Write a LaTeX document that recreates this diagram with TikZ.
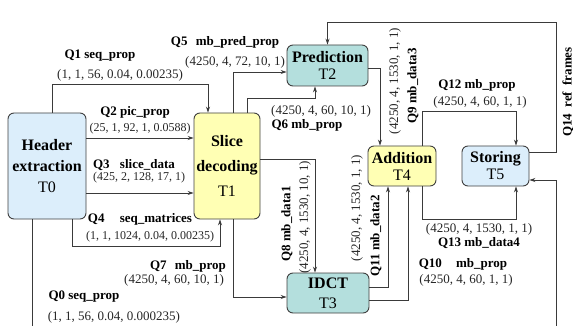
\documentclass[tikz,border=0pt]{standalone}
\usepackage{fontspec}
\setmainfont{Liberation Serif}
\usetikzlibrary{arrows.meta}
\definecolor{boxblue}{HTML}{DCEEFB}
\definecolor{boxyellow}{HTML}{FFFFB4}
\definecolor{boxteal}{HTML}{B4DFDD}
\definecolor{linec}{HTML}{3A3A3A}
\begin{document}
\begin{tikzpicture}[x=1pt,y=-1pt,
  box/.style={draw=black!75, line width=0.9pt, rounded corners=6pt, inner sep=0pt, align=center},
  conn/.style={draw=linec, line width=0.8pt},
  arr/.style={conn, -{Stealth[length=6pt,width=4pt]}},
  qname/.style={font=\fontsize{13}{15}\selectfont\bfseries, inner sep=0pt},
  qval/.style={font=\fontsize{13}{15}\selectfont, inner sep=0pt, text=black!85},
  qvals/.style={font=\fontsize{12}{14}\selectfont, inner sep=0pt, text=black!85}
]
\useasboundingbox (0,0) rectangle (573,326);

% tasks
\node[box, fill=boxblue, minimum width=78pt, minimum height=106pt,
      font=\fontsize{16}{21}\selectfont] (T0) at (47,166)
      {\textbf{Header}\\\textbf{extraction}\\T0};
\node[box, fill=boxyellow, minimum width=66pt, minimum height=106pt,
      font=\fontsize{16}{25}\selectfont] (T1) at (227,166)
      {\textbf{Slice}\\\textbf{decoding}\\T1};
\node[box, fill=boxteal, minimum width=81pt, minimum height=41pt,
      font=\fontsize{16}{17.5}\selectfont] (T2) at (327.5,65.5)
      {\textbf{Prediction}\\T2};
\node[box, fill=boxteal, minimum width=82pt, minimum height=40pt,
      font=\fontsize{16}{20}\selectfont] (T3) at (328,293)
      {\textbf{IDCT}\\T3};
\node[box, fill=boxyellow, minimum width=68pt, minimum height=40pt,
      font=\fontsize{16}{17}\selectfont] (T4) at (402,166)
      {\textbf{Addition}\\T4};
\node[box, fill=boxblue, minimum width=67pt, minimum height=40pt,
      font=\fontsize{16}{17}\selectfont] (T5) at (495.5,166)
      {\textbf{Storing}\\T5};

\coordinate (q0a) at (32,326);
\coordinate (q0b) at (556,326);

% connectors
\draw[arr] ([xshift=5pt]T0.north) -- ++(0,-28) -| ([xshift=-19pt]T1.north);
\draw[arr] ([yshift=28pt]T0.east) -- ([yshift=28pt]T1.west);
\draw[arr] ([yshift=-27pt]T0.east) -- ([yshift=-27pt]T1.west);
\draw[arr] ([xshift=25pt]T0.south) -- ++(0,27) -| ([xshift=-7pt]T1.south);
\draw[conn] ([xshift=-15pt]T0.south) -- (q0a);
\draw[arr] (q0b) |- ([yshift=-14pt]T5.east);
\draw[arr] ([xshift=6pt]T1.north) |- ([yshift=-6.5pt]T2.west);
\draw[arr] ([xshift=20pt]T1.north) -- ++(0,-14) -| ([xshift=-12.5pt]T2.south);
\draw[arr] ([xshift=6pt]T1.south) |- ([yshift=-4pt]T3.west);
\draw[arr] ([yshift=7pt]T1.east) -| ([xshift=-13pt]T3.north);
\draw[arr] ([yshift=-2.5pt]T2.east) -| ([xshift=-22pt]T4.north);
\draw[arr] ([yshift=-7pt]T3.east) -| ([xshift=6pt]T4.south);
\draw[arr] ([yshift=6pt]T3.east) -| ([xshift=-14pt]T4.south);
\draw[arr] ([xshift=20pt]T4.north) -- ++(0,-34) -| ([xshift=20.5pt]T5.north);
\draw[arr] ([xshift=20pt]T4.south) -- ++(0,33) -| ([xshift=20.5pt]T5.south);
\draw[arr] ([yshift=14pt]T5.east) -- ++(27,0) -- ++(0,-130) -| (T2.north);

% labels
\node[qname] (l1n) at (100,56) {Q1 seq\_prop};
\node[qval] (l1v) at (120,75) {(1, 1, 56, 0.04, 0.00235)};
\node[qname] (l2n) at (135,112) {Q2 pic\_prop};
\node[qvals] (l2v) at (140,129) {(25, 1, 92, 1, 0.0588)};
\node[qname] (l3n) at (134,165) {Q3\hspace{7pt} slice\_data};
\node[qvals] (l3v) at (139,178) {(425, 2, 128, 17, 1)};
\node[qname] (l4n) at (140,219) {Q4\hspace{12pt} seq\_matrices};
\node[qvals] (l4v) at (150,237) {(1, 1, 1024, 0.04, 0.00235)};
\node[qname] (l0n) at (84,297) {Q0 seq\_prop};
\node[qval] (l0v) at (114,317) {(1, 1, 56, 0.04, 0.000235)};
\node[qname] (l7n) at (188,266) {Q7\hspace{5pt} mb\_prop};
\node[qval] (l7v) at (174,280) {(4250, 4, 60, 10, 1)};
\node[qname] (l5n) at (225,42) {Q5\hspace{5pt} mb\_pred\_prop};
\node[qval] (l5v) at (235,62) {(4250, 4, 72, 10, 1)};
\node[qval] (l6v) at (321,111) {(4250, 4, 60, 10, 1)};
\node[qname] (l6n) at (307,125) {Q6 mb\_prop};
\node[qname, rotate=90] (l8n) at (287,224) {Q8 mb\_data1};
\node[qval, rotate=90] (l8v) at (305,217) {(4250, 4, 1530, 10, 1)};
\node[qval, rotate=90] (l9v) at (395,81) {(4250, 4, 1530, 1, 1)};
\node[qname, rotate=90] (l9n) at (413,86) {Q9 mb\_data3};
\node[qval, rotate=90] (l11v) at (357,208) {(4250, 4, 1530, 1, 1)};
\node[qname, rotate=90] (l11n) at (376,236) {Q11 mb\_data2};
\node[qname] (l12n) at (477,85) {Q12 mb\_prop};
\node[qval] (l12v) at (480,102) {(4250, 4, 60, 1, 1)};
\node[qval] (l13v) at (479,229) {(4250, 4, 1530, 1, 1)};
\node[qname] (l13n) at (479,243) {Q13 mb\_data4};
\node[qname] (l10n) at (463,264) {Q10\hspace{11pt} mb\_prop};
\node[qval] (l10v) at (466,280) {(4250, 4, 60, 1, 1)};
\node[qname, rotate=90] (l14n) at (568,92) {Q14\hspace{3pt} ref\hspace{3pt} frames};
\end{tikzpicture}
\end{document}
